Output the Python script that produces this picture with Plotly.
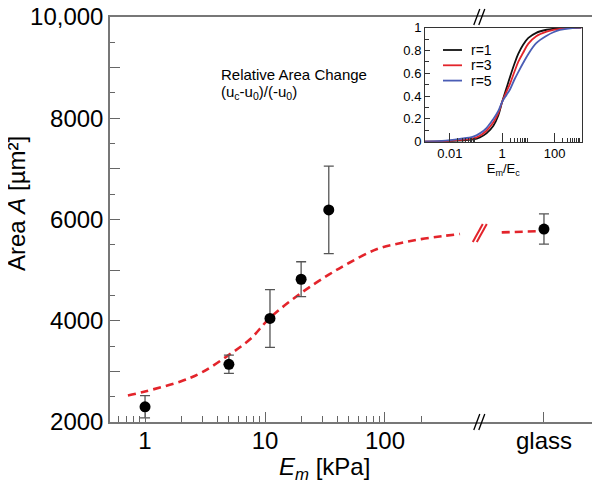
import math
import plotly.graph_objects as go

# ---------------- data ----------------
stiffness_kpa = [1, 5, 11, 20, 34]
area_um2 = [2300, 3140, 4045, 4820, 6190]
area_err = [220, 180, 570, 345, 865]

glass_label = "glass"
glass_area = [5812]
glass_err = [300]

# dashed model curve
fit_x = [0.72, 1.0, 2.0, 3.0, 5.0, 7.5, 11, 20, 34, 50, 85, 133, 200, 300, 422]
fit_y = [2525, 2603, 2805, 2985, 3325, 3633, 4057, 4548, 4910, 5141, 5412, 5530, 5612, 5671, 5714]
fit_glass_y = [5745, 5773]

# inset: relative area change vs Em/Ec
inset_x = [0.0011, 0.005, 0.024, 0.078, 0.14, 0.25, 0.46, 0.71, 1.0, 1.46, 2.0, 3.0,
           4.1, 6.3, 10, 20, 50, 90, 160, 400, 1070]
r1_y = [0.0, 0.002, 0.009, 0.02, 0.038, 0.073, 0.14, 0.23, 0.35, 0.47, 0.57, 0.69,
        0.77, 0.85, 0.91, 0.955, 0.982, 0.991, 0.996, 0.999, 1.0]
r3_y = [0.0, 0.003, 0.016, 0.029, 0.053, 0.096, 0.17, 0.25, 0.35, 0.44, 0.51, 0.62,
        0.70, 0.78, 0.86, 0.925, 0.965, 0.98, 0.99, 0.998, 1.0]
r5_y = [0.001, 0.006, 0.024, 0.044, 0.073, 0.12, 0.20, 0.27, 0.35, 0.41, 0.46, 0.55,
        0.61, 0.69, 0.77, 0.865, 0.93, 0.96, 0.98, 0.995, 1.0]
inset_names = ["r=1", "r=3", "r=5"]
inset_colors = ["#111111", "#e3242b", "#4a5db5"]

y_ticks = [2000, 4000, 6000, 8000, 10000]
y_ticktext = ["2000", "4000", "6000", "8000", "10,000"]
y_unlabelled = [3000, 5000, 7000, 9000]
x_ticks = [1, 10, 100]
x_minor = [0.6, 0.7, 0.8, 0.9, 2, 3, 4, 5, 6, 7, 8, 9, 20, 30, 40, 50, 60, 70, 80, 90, 200]
inset_xticks = [0.01, 1, 100]
inset_minor = [0.02, 0.03, 0.04, 0.05, 0.06, 0.07, 0.08, 0.09,
               2, 3, 4, 5, 6, 7, 8, 9, 200, 300, 400, 500, 600, 700, 800, 900]

# ---------------- layout geometry ----------------
OFF = 8                       # page body margin offset
W, H = 600 - OFF, 487 - OFF
ML, MR, MT, MB = 110 - OFF, 3, 17 - OFF, 65
PW, PH = W - ML - MR, H - MT - MB
XR = [-0.292, 3.767]          # log10 range of the main x axis
GLASS_X = 10 ** 3.325         # where the "glass" column sits
BREAK_X = 10 ** 2.79          # axis break position
FIT_GLASS_X = [10 ** 2.973, GLASS_X]


def px_x(p):
    return (p - OFF - ML) / PW


def px_y(p):
    return (H - MB - (p - OFF)) / PH


FONT = "Liberation Sans, Arial, sans-serif"
RED = "#e3242b"

fig = go.Figure()

# model curve
fig.add_trace(go.Scatter(x=fit_x, y=fit_y, mode="lines", line_shape="spline",
                         line=dict(color=RED, width=2.6, dash="8px,5px"),
                         hoverinfo="skip", showlegend=False))
fig.add_trace(go.Scatter(x=FIT_GLASS_X, y=fit_glass_y, mode="lines",
                         line=dict(color=RED, width=2.6, dash="8px,5px"),
                         hoverinfo="skip", showlegend=False))

# data points
err_style = dict(type="data", thickness=1.3, width=5, color="#555555")
fig.add_trace(go.Scatter(x=stiffness_kpa, y=area_um2, mode="markers",
                         marker=dict(color="black", size=11),
                         error_y=dict(array=area_err, **err_style), showlegend=False))
fig.add_trace(go.Scatter(x=[GLASS_X], y=glass_area, mode="markers",
                         marker=dict(color="black", size=11),
                         error_y=dict(array=glass_err, **err_style), showlegend=False))

# inset curves
for yy, nm, col in zip([r1_y, r3_y, r5_y], inset_names, inset_colors):
    fig.add_trace(go.Scatter(x=inset_x, y=yy, mode="lines", line_shape="spline",
                             line=dict(color=col, width=1.8), name=nm,
                             xaxis="x2", yaxis="y2", showlegend=False))

axis_common = dict(showgrid=False, zeroline=False, ticks="inside", mirror=True,
                   showline=True, automargin=False, ticklabeloverflow="allow")

fig.update_layout(
    width=W, height=H,
    margin=dict(l=ML, r=MR, t=MT, b=MB, pad=0, autoexpand=False),
    paper_bgcolor="white", plot_bgcolor="white",
    font=dict(family=FONT, color="black"),
    xaxis=dict(type="log", range=XR, tickvals=x_ticks + [GLASS_X],
               ticktext=[str(v) for v in x_ticks] + [glass_label],
               ticklen=10, tickcolor="#666", tickwidth=1,
               linecolor="#777", linewidth=1.5,
               tickfont=dict(size=24, family=FONT),
               ticklabelstandoff=-4,
               minor=dict(tickmode="array", tickvals=x_minor, ticks="inside",
                          ticklen=6, tickcolor="#666"),
               **axis_common),
    yaxis=dict(range=[2000, 10000], tickvals=y_ticks, ticktext=y_ticktext,
               ticklen=10, tickcolor="#666", tickwidth=1,
               linecolor="#777", linewidth=1.5,
               tickfont=dict(size=24, family=FONT),
               minor=dict(dtick=500, tick0=0, ticks="inside", ticklen=5,
                          tickcolor="#666"),
               **axis_common),
    yaxis3=dict(range=[2000, 10000], overlaying="y", anchor="x", side="left",
                tickvals=y_unlabelled, showticklabels=False, ticks="inside",
                ticklen=10, tickcolor="#666", tickwidth=1, showline=False,
                showgrid=False, zeroline=False, automargin=False),
    xaxis2=dict(type="log", range=[-2.95, 3.03], anchor="y2",
                domain=[px_x(425), px_x(581.5)],
                tickvals=inset_xticks, ticktext=["0.01", "1", "100"],
                ticklen=9, tickcolor="#333", linecolor="#333", linewidth=1,
                tickfont=dict(size=13),
                minor=dict(tickmode="array", tickvals=inset_minor, ticks="inside",
                           ticklen=4, tickcolor="#333"),
                title=dict(text="E<sub>m</sub>/E<sub>c</sub>", font=dict(size=13),
                           standoff=2),
                **axis_common),
    yaxis2=dict(range=[0, 1], anchor="x2",
                domain=[px_y(141.7), px_y(27.7)],
                tickvals=[0, 0.2, 0.4, 0.6, 0.8, 1],
                ticktext=["0", "0.2", "0.4", "0.6", "0.8", "1"],
                ticklen=5, tickcolor="#333", linecolor="#333", linewidth=1,
                tickfont=dict(size=13),
                minor=dict(dtick=0.1, tick0=0, ticks="inside", ticklen=4,
                           tickcolor="#333"),
                **axis_common),
)

# invisible carrier so the unlabelled-tick axis is drawn
fig.add_trace(go.Scatter(x=[1], y=[5000], yaxis="y3", mode="markers",
                         marker=dict(opacity=0), hoverinfo="skip", showlegend=False))

# axis titles
fig.add_annotation(text="Area <i>A</i> [µm²]", xref="paper", yref="paper",
                   x=px_x(17), y=px_y(204), textangle=-90, showarrow=False,
                   font=dict(size=24), xanchor="center", yanchor="middle")
fig.add_annotation(text="<i>E<sub>m</sub></i> [kPa]", xref="paper", yref="paper",
                   x=px_x(324), y=px_y(468), showarrow=False,
                   font=dict(size=24), xanchor="center", yanchor="middle")

# inset caption
fig.add_annotation(text="Relative Area Change", xref="paper", yref="paper",
                   x=px_x(219), y=px_y(74), showarrow=False, font=dict(size=15),
                   xanchor="left", yanchor="middle")
fig.add_annotation(text="(u<sub>c</sub>-u<sub>0</sub>)/(-u<sub>0</sub>)", xref="paper",
                   yref="paper", x=px_x(219), y=px_y(92), showarrow=False,
                   font=dict(size=15), xanchor="left", yanchor="middle")

# inset legend
for i, (nm, col) in enumerate(zip(inset_names, inset_colors)):
    ly = 50 + 15.3 * i
    fig.add_shape(type="line", xref="paper", yref="paper",
                  x0=px_x(443), x1=px_x(462), y0=px_y(ly), y1=px_y(ly),
                  line=dict(color=col, width=1.8))
    fig.add_annotation(text=nm, xref="paper", yref="paper", x=px_x(469), y=px_y(ly),
                       showarrow=False, font=dict(size=14), xanchor="left",
                       yanchor="middle")

# axis-break marks
bx = (math.log10(BREAK_X) - XR[0]) / (XR[1] - XR[0])
for anchor_y in (0, 1):
    for off in (-3, 2):
        fig.add_shape(type="line", xref="paper", yref="paper",
                      xsizemode="pixel", ysizemode="pixel",
                      xanchor=bx, yanchor=anchor_y,
                      x0=off - 3, x1=off + 3, y0=-8, y1=8,
                      line=dict(color="black", width=1.3))
for off in (-2, 2):
    fig.add_shape(type="line", xref="paper", yref="y",
                  xsizemode="pixel", ysizemode="pixel",
                  xanchor=bx, yanchor=5733,
                  x0=off - 5, x1=off + 5, y0=-9, y1=9,
                  line=dict(color=RED, width=2))

fig.write_html("out.html")
